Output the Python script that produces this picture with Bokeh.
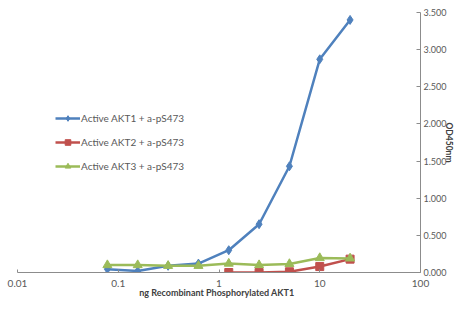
from bokeh.plotting import figure
from bokeh.models import Range1d, FixedTicker, CustomJSTickFormatter, NumeralTickFormatter, Legend
from bokeh.embed import file_html
from bokeh.resources import INLINE

conc = [0.078, 0.156, 0.3125, 0.625, 1.25, 2.5, 5, 10, 20]
akt1 = [0.045, 0.02, 0.09, 0.12, 0.30, 0.65, 1.43, 2.87, 3.40]
conc2 = [1.25, 2.5, 5, 10, 20]
akt2 = [0.0, 0.0, 0.01, 0.08, 0.18]
akt3 = [0.10, 0.10, 0.09, 0.09, 0.12, 0.10, 0.115, 0.195, 0.19]
x_ticks = [0.01, 0.1, 1, 10, 100]
y_ticks = [0, 0.5, 1.0, 1.5, 2.0, 2.5, 3.0, 3.5]
x_title = "ng Recombinant  Phosphorylated  AKT1"
y_title = "OD450nm"
names = ["Active AKT1 + a-pS473", "Active AKT2 + a-pS473", "Active AKT3 + a-pS473"]

FONT = "Lato"
BLUE, RED, GREEN = "#4F81BD", "#C0504D", "#9BBB59"

p = figure(width=456, height=300, x_axis_type="log", y_axis_location="right",
           output_backend="svg", toolbar_location=None,
           x_range=Range1d(0.01, 100), y_range=Range1d(0, 3.5),
           min_border_left=17, min_border_top=12, min_border_right=34, min_border_bottom=27)
p.outline_line_color = None
p.xgrid.visible = False
p.ygrid.visible = False
p.background_fill_color = "white"
p.border_fill_color = "white"

r1l = p.line(conc, akt1, line_color=BLUE, line_width=2.5)
r1m = p.scatter(conc, akt1, marker="diamond", size=9, fill_color=BLUE, line_color=BLUE)
r2l = p.line(conc2, akt2, line_color=RED, line_width=2.5)
r2m = p.scatter(conc2, akt2, marker="square", size=8, fill_color=RED, line_color=RED)
r3l = p.line(conc, akt3, line_color=GREEN, line_width=2.5)
r3m = p.scatter(conc, akt3, marker="triangle", size=9, fill_color=GREEN, line_color=GREEN)

xa = p.xaxis[0]
xa.ticker = FixedTicker(ticks=x_ticks, minor_ticks=[])
xa.formatter = CustomJSTickFormatter(code="return tick.toString();")
xa.major_tick_in = 3
xa.major_tick_out = 0
xa.minor_tick_in = 0
xa.minor_tick_out = 0
xa.axis_line_color = "#8c8c8c"
xa.major_tick_line_color = "#8c8c8c"
xa.major_label_text_font = FONT
xa.major_label_text_font_size = "10px"
xa.major_label_text_color = "#595959"
xa.major_label_standoff = 7
xa.axis_label = x_title
xa.axis_label_text_font = FONT
xa.axis_label_text_font_size = "9px"
xa.axis_label_text_font_style = "bold"
xa.axis_label_text_color = "#404040"
xa.axis_label_standoff = -3

ya = p.yaxis[0]
ya.ticker = FixedTicker(ticks=y_ticks, minor_ticks=[])
ya.formatter = NumeralTickFormatter(format="0.000")
ya.major_tick_in = 4
ya.major_tick_out = 0
ya.minor_tick_in = 0
ya.minor_tick_out = 0
ya.axis_line_color = "#8c8c8c"
ya.major_tick_line_color = "#8c8c8c"
ya.major_label_text_font = FONT
ya.major_label_text_font_size = "9px"
ya.major_label_text_color = "#595959"
ya.major_label_standoff = 3
ya.axis_label = y_title
ya.axis_label_text_font = FONT
ya.axis_label_text_font_size = "8.5px"
ya.axis_label_text_font_style = "bold"
ya.axis_label_text_color = "#404040"
ya.axis_label_standoff = -6

legend = Legend(items=[
    (names[0], [r1l, r1m]),
    (names[1], [r2l, r2m]),
    (names[2], [r3l, r3m]),
], location=(38, 99))
legend.glyph_width = 25
legend.glyph_height = 14
legend.label_height = 14
legend.label_standoff = 1
legend.spacing = 10
legend.padding = 0
legend.margin = 0
legend.border_line_color = None
legend.background_fill_alpha = 0
legend.label_text_font = FONT
legend.label_text_font_size = "10px"
legend.label_text_color = "#595959"
p.add_layout(legend)

open("out.html", "w").write(file_html(p, INLINE))
